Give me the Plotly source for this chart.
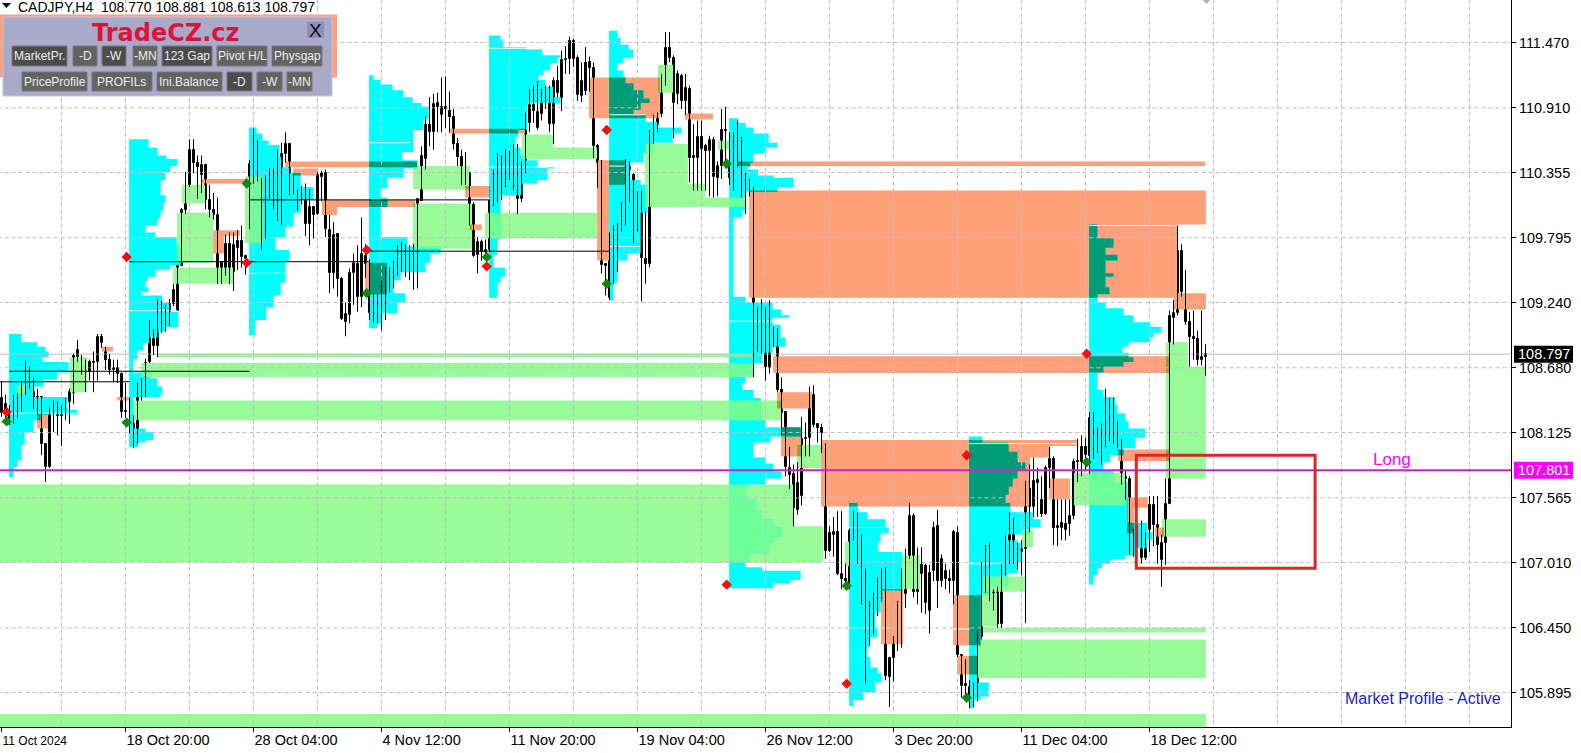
import plotly.graph_objects as go

# ---------- OHLC (bar index 0..301) ----------
opens = [108.42,108.37,108.22,108.28,108.36,108.38,108.53,108.68,108.47,108.43,
108.43,108.03,107.83,108.29,108.30,108.27,108.34,108.39,108.46,108.77,
108.71,108.74,108.64,108.72,108.73,108.94,108.82,108.75,108.66,108.68,
108.63,108.31,108.22,108.20,108.12,108.55,108.49,108.73,108.93,108.87,
109.09,109.14,109.13,109.23,109.17,109.55,110.03,110.24,110.55,110.44,
110.33,110.42,110.12,110.03,109.99,109.43,109.49,109.74,109.50,109.71,
109.77,109.64,110.26,110.43,110.55,110.30,109.85,110.26,110.36,110.17,
110.03,110.51,110.60,110.29,110.12,110.15,110.17,109.91,110.06,110.00,
110.32,110.35,109.86,109.49,109.83,109.44,109.07,109.13,109.49,109.57,
109.29,109.64,109.52,109.16,109.25,109.17,109.20,109.44,109.46,109.54,
109.68,109.61,109.55,109.55,109.67,110.11,110.47,110.76,110.70,110.95,
110.85,110.92,110.88,110.83,110.60,110.49,110.26,110.35,110.08,109.65,
109.76,109.69,109.69,110.11,110.25,110.31,110.26,110.39,110.30,110.50,
110.13,110.38,110.78,110.93,110.74,110.86,110.99,111.05,110.77,111.14,
110.99,111.32,111.33,111.48,111.34,111.01,111.29,111.30,111.25,110.58,
110.45,109.57,109.28,109.84,109.75,109.86,109.98,110.40,110.33,109.93,
110.13,109.61,109.57,110.68,110.76,110.86,111.16,111.42,111.34,111.03,
111.18,110.97,111.07,110.48,110.48,110.66,110.58,110.54,110.63,110.31,
110.41,110.72,110.40,110.32,110.61,110.65,110.29,110.27,110.23,108.97,
108.97,109.20,108.68,108.89,108.93,108.49,108.30,107.82,107.77,107.46,
107.58,108.07,108.08,108.45,108.20,108.16,108.03,107.11,107.25,107.27,
106.91,106.87,106.82,107.28,107.43,107.17,106.94,106.44,106.44,106.65,
106.82,106.86,106.03,106.19,106.32,106.56,106.74,107.06,107.41,106.76,
106.91,106.98,106.59,106.94,107.32,106.85,106.94,106.87,106.85,107.26,
106.22,105.95,105.84,105.94,105.84,106.37,106.99,107.06,106.66,106.76,
106.48,106.94,107.10,107.38,107.14,107.10,107.13,107.64,107.49,107.69,
107.55,107.43,107.82,107.90,107.31,107.31,107.29,107.34,107.41,107.87,
107.87,108.00,107.92,108.25,108.02,108.07,108.09,108.35,108.12,108.22,
108.07,107.73,107.73,107.10,107.30,107.30,107.05,107.29,107.50,107.33,
107.03,107.18,107.51,109.11,109.15,109.68,109.27,109.07,108.94,108.93,
108.75,108.770]
highs = [108.56,108.45,108.36,108.45,108.46,108.57,108.74,108.69,108.59,108.50,
108.43,108.03,108.34,108.40,108.39,108.36,108.42,108.50,108.80,108.92,
108.79,108.75,108.75,108.82,108.97,108.97,108.86,108.80,108.75,108.75,
108.64,108.55,108.42,108.27,108.55,108.59,108.76,109.09,109.01,109.27,
109.25,109.22,109.27,109.40,109.56,110.05,110.36,110.64,110.64,110.50,
110.50,110.43,110.25,110.18,110.14,109.59,109.82,109.84,109.84,109.86,
109.90,109.65,110.46,110.73,110.63,110.31,110.33,110.39,110.39,110.55,
110.61,110.70,110.61,110.34,110.21,110.24,110.26,110.21,110.07,110.36,
110.37,110.38,109.99,109.93,109.83,109.46,109.24,109.53,109.66,109.73,
109.97,109.74,109.61,109.32,109.32,109.43,109.54,109.54,109.60,109.73,
109.76,109.74,109.73,109.74,110.13,110.58,110.84,111.00,111.03,111.04,
111.17,111.18,111.05,110.90,110.65,110.55,110.53,110.36,110.10,109.80,
109.78,109.78,110.12,110.38,110.52,110.50,110.55,110.54,110.60,110.60,
110.45,110.87,111.07,111.10,111.14,111.07,111.10,111.10,111.17,111.27,
111.40,111.44,111.52,111.50,111.36,111.30,111.43,111.35,111.30,110.60,
110.46,109.57,109.84,109.90,109.92,110.10,110.47,110.45,110.35,110.19,
110.20,110.02,110.72,110.85,110.87,111.20,111.56,111.56,111.36,111.23,
111.20,111.20,111.10,110.77,110.80,110.80,110.60,110.67,110.66,110.45,
110.90,110.92,110.70,110.70,110.80,110.66,110.35,110.30,110.23,109.20,
109.27,109.20,109.26,109.03,109.02,108.60,108.30,108.00,107.85,107.87,
108.26,108.21,108.52,108.53,108.20,108.20,108.03,107.32,107.40,107.45,
107.45,107.00,107.30,107.45,107.44,107.25,106.96,106.68,106.75,106.88,
106.96,106.97,106.20,106.38,106.68,106.96,107.13,107.52,107.43,107.14,
107.14,107.00,106.99,107.36,107.46,107.08,107.00,106.95,107.29,107.32,
106.22,106.18,106.00,105.98,106.42,107.01,107.16,107.18,106.78,106.80,
106.99,107.24,107.44,107.39,107.18,107.20,107.71,107.85,107.91,107.82,
107.75,107.84,108.00,107.92,107.55,107.55,107.55,107.55,107.90,108.07,
108.10,108.08,108.30,108.30,108.17,108.20,108.50,108.42,108.42,108.23,
108.07,107.80,107.75,107.30,107.33,107.37,107.27,107.58,107.58,107.58,
107.25,107.73,109.17,109.26,109.90,109.74,109.52,109.16,109.17,109.00,
109.17,108.881]
lows = [108.26,108.25,108.19,108.20,108.25,108.30,108.45,108.50,108.33,108.28,
107.93,107.70,107.82,108.13,108.10,108.01,108.23,108.20,108.37,108.73,
108.62,108.47,108.57,108.47,108.57,108.85,108.66,108.62,108.56,108.55,
108.25,108.25,108.12,107.99,108.03,108.40,108.43,108.72,108.79,108.77,
108.98,108.99,109.04,109.21,109.17,109.55,110.00,110.23,110.35,110.13,
110.18,110.04,109.97,109.95,109.40,109.40,109.47,109.40,109.34,109.52,
109.54,109.48,109.87,110.26,110.28,109.69,109.79,110.13,110.04,109.94,
109.91,110.44,110.16,110.17,110.03,110.08,109.81,109.73,109.79,109.99,
110.11,109.80,109.32,109.36,109.29,109.09,108.95,109.06,109.22,109.16,
109.20,109.45,109.09,109.07,109.06,109.00,109.09,109.33,109.36,109.47,
109.50,109.46,109.43,109.35,109.36,110.11,110.38,110.58,110.55,110.70,
110.70,110.74,110.70,110.55,110.41,110.25,110.25,109.90,109.63,109.49,
109.60,109.64,109.67,110.07,110.10,110.12,110.23,110.29,110.20,110.00,
110.10,110.35,110.70,110.78,110.72,110.80,110.90,110.70,110.60,111.00,
110.88,111.20,111.20,111.26,110.97,110.96,111.02,111.05,110.48,110.22,
109.49,109.30,109.26,109.40,109.50,109.85,109.90,110.10,109.75,109.85,
109.25,109.40,109.54,110.60,110.70,110.83,111.10,111.30,110.65,110.94,
110.90,110.85,110.27,110.20,110.20,110.20,110.20,110.15,110.14,110.15,
110.30,110.39,110.25,110.20,110.40,110.14,110.00,110.15,108.60,108.82,
108.80,108.57,108.63,108.86,108.47,108.10,107.75,107.64,107.32,107.42,
107.50,107.92,107.92,108.17,108.04,107.95,107.04,107.10,107.06,106.90,
106.78,106.82,106.78,107.20,107.00,106.65,105.97,106.30,106.40,106.55,
106.70,106.00,105.77,105.99,106.25,106.28,106.62,107.04,106.71,106.65,
106.58,106.57,106.40,106.85,106.62,106.80,106.78,106.75,106.65,106.20,
105.85,105.88,105.76,105.77,105.82,106.35,106.75,106.68,106.60,106.45,
106.45,106.90,107.00,107.00,106.95,106.90,106.49,107.27,107.40,107.40,
107.40,107.42,107.65,107.16,107.15,107.20,107.20,107.24,107.38,107.70,
107.75,107.80,107.77,107.90,107.95,107.85,108.00,108.05,108.03,107.99,
107.68,107.55,107.08,107.06,107.15,107.00,107.03,107.10,107.15,107.00,
106.80,106.99,107.51,108.88,109.13,109.29,109.05,108.69,108.75,108.70,
108.70,108.613]
closes = [108.29,108.30,108.29,108.37,108.39,108.54,108.68,108.53,108.41,108.42,
108.03,107.83,108.30,108.32,108.27,108.34,108.39,108.47,108.78,108.83,
108.74,108.65,108.73,108.73,108.94,108.89,108.75,108.66,108.68,108.63,
108.30,108.30,108.20,108.12,108.55,108.48,108.72,109.06,108.87,109.09,
109.14,109.12,109.23,109.35,109.56,110.03,110.24,110.55,110.44,110.40,
110.42,110.12,110.03,109.99,109.43,109.59,109.74,109.50,109.73,109.77,
109.63,109.61,110.43,110.55,110.37,109.85,110.27,110.37,110.16,110.03,
110.51,110.60,110.28,110.21,110.16,110.17,109.91,110.06,109.99,110.33,
110.35,109.87,109.49,109.82,109.44,109.10,109.14,109.49,109.58,109.29,
109.66,109.57,109.15,109.25,109.17,109.20,109.44,109.41,109.54,109.68,
109.61,109.54,109.54,109.69,110.13,110.50,110.76,110.70,110.94,110.92,
110.92,110.90,110.83,110.60,110.49,110.33,110.34,110.07,109.64,109.76,
109.67,109.67,110.11,110.31,110.27,110.26,110.50,110.50,110.50,110.13,
110.38,110.85,110.93,110.88,110.87,111.00,111.05,110.77,111.14,111.04,
111.32,111.33,111.48,111.33,111.02,111.14,111.05,111.25,110.58,110.44,
109.56,109.55,109.84,109.75,109.86,109.99,110.40,110.38,109.93,110.13,
109.62,109.57,110.68,110.72,110.85,111.16,111.42,111.34,110.95,111.20,
110.97,111.08,110.48,110.50,110.66,110.56,110.54,110.63,110.32,110.41,
110.72,110.71,110.31,110.61,110.65,110.29,110.27,110.23,108.97,108.96,
109.20,108.69,108.89,108.94,108.49,108.29,107.83,107.76,107.48,107.69,
108.07,108.08,108.45,108.19,108.16,108.12,107.11,107.26,107.27,106.91,
106.87,106.85,107.28,107.43,107.17,106.94,106.44,106.51,106.65,106.83,
106.86,106.04,106.19,106.32,106.56,106.74,107.06,107.41,106.76,107.04,
106.99,106.66,106.92,107.31,106.85,107.04,106.87,106.85,107.27,106.22,
105.95,105.97,105.94,105.84,106.37,106.99,107.06,106.78,106.76,106.48,
106.94,107.10,107.38,107.16,107.10,107.13,107.64,107.49,107.71,107.72,
107.43,107.82,107.90,107.31,107.32,107.35,107.34,107.41,107.87,107.88,
108.00,107.93,108.25,108.02,108.07,108.09,108.35,108.22,108.22,108.06,
107.71,107.74,107.10,107.24,107.28,107.05,107.22,107.50,107.33,107.16,
107.18,107.51,109.12,109.15,109.68,109.33,109.07,108.94,108.93,108.75,
108.77,108.797]

# ---------- axes ----------
price_ticks = [111.470,110.910,110.355,109.795,109.240,108.680,108.125,107.565,107.010,106.450,105.895]
date_ticks = [0,31,63,95,127,159,191,223,255,287]
date_labels = ['<span style="font-size:12px">11 Oct 2024</span>',"18 Oct 20:00","28 Oct 04:00","4 Nov 12:00","11 Nov 20:00",
               "19 Nov 04:00","26 Nov 12:00","3 Dec 20:00","11 Dec 04:00","18 Dec 12:00"]
x_grid = [15+16*n for n in range(23)]
last_price = 108.797
long_price = 107.801

# ---------- supply / demand zones: first bar, last bar, upper price, lower price ----------
salmon_zones = [(-1,83.9,111.71,111.17),(49.9,61.4,110.30,110.26),(52.9,59.6,109.86,109.81),(52.9,55.6,109.81,109.66),
(70.9,103.9,110.45,110.40),(72.9,78.9,110.39,110.33),(80.1,103.4,110.12,110.06),(80.1,83.9,110.06,109.99),
(111.9,130.9,110.73,110.69),(115.9,122.1,110.24,110.14),(117.1,120.1,109.91,109.86),(146.9,164.6,111.17,110.82),
(148.9,155.9,110.46,110.25),(148.9,151.9,110.25,109.60),(170.9,177.9,110.86,110.81),(183.9,300.9,110.45,110.41),
(186.9,301.1,110.20,109.91),(186.9,293.9,109.91,109.28),(293.1,301.1,109.32,109.18),(192.9,292.1,108.78,108.635),
(193.9,202.6,108.47,108.33),(194.9,199.9,108.17,107.92),(204.9,257.1,108.06,107.49),(257.1,268.9,108.06,108.01),
(257.1,262.1,108.01,107.91),(261.9,267.1,107.73,107.55),(219.9,225.4,106.78,106.31),(237.9,244.9,106.73,106.30),
(238.9,243.9,106.21,106.05),(279.1,291.9,107.98,107.88),(281.4,286.6,107.57,107.48),(281.4,283.1,107.48,107.26),
(288.4,290.6,107.31,107.23),(25.1,27.9,108.86,108.82),(28.9,32.1,108.43,108.40),(8.9,11.6,108.29,108.16),
(90.9,96.4,109.58,109.31)]
green_zones = [(-1,301.1,105.71,105.60),(-1,197.9,107.68,107.32),(-1,205.4,107.32,107.01),(34.9,187.9,108.72,108.60),
(38.9,187.9,108.80,108.77),(32.9,194.9,108.40,108.23),(45.1,50.9,110.25,110.09),(43.9,52.9,110.01,109.58),
(42.9,57.9,109.54,109.40),(60.9,65.4,110.32,109.75),(102.9,117.1,110.41,110.21),(102.9,117.6,110.09,109.70),
(120.9,148.9,110.01,109.79),(130.1,148.9,110.57,110.47),(130.1,137.9,110.68,110.57),(160.9,171.6,110.60,110.26),
(160.9,175.9,110.26,110.14),(160.9,185.9,110.14,110.06),(164.1,167.9,111.28,111.17),(164.1,167.9,111.17,111.04),
(179.1,182.1,110.63,110.55),(198.9,204.9,108.02,107.82),(210.9,212.1,107.19,106.98),(225.1,229.6,107.07,106.78),
(245.4,255.9,106.89,106.76),(245.1,248.9,106.75,106.46),(255.1,257.9,107.29,107.14),(245.4,301.1,106.45,106.41),
(243.9,301.1,106.35,106.02),(267.9,280.9,107.78,107.50),(291.1,296.6,108.90,108.69),(291.1,301.1,108.69,107.73),
(290.1,301.1,107.38,107.23),(17.1,21.4,108.77,108.47),(3.9,5.9,108.53,108.45)]

# ---------- weekly market profiles: start bar, price levels (last = lower end), TPO counts in bars ----------
p0_start = 2
p0_levels = [108.97,108.90,108.86,108.82,108.77,108.73,108.64,108.58,108.52,108.43,108.32,108.28,108.23,108.13,108.02,107.89,107.83,107.74]
p0_counts = [3,7,9,9.8,8.2,14.8,12,8.5,6,14.5,17,7.8,6,3.8,3,2,1]
p1_start = 32
p1_levels = [110.64,110.57,110.50,110.47,110.41,110.36,110.35,110.29,110.16,110.10,110.03,109.96,109.90,109.84,109.80,109.73,109.56,109.52,109.46,109.42,109.37,109.33,109.30,109.24,109.16,109.03,108.99,108.94,108.89,108.83,108.75,108.64,108.59,108.52,108.46,108.43,108.16,108.13,108.06,108.04,108.00]
p1_counts = [4.8,7,9.2,12,10.2,7,9,7.8,9,8.5,7.8,7,4,6.5,11.8,12.8,10.2,6.5,4.5,4,4.8,3,8.2,10.2,12.2,9,7.2,5,3.5,2,1,5.2,7,8.2,7.8,1,4,6,4,2.2]
p2_start = 62
p2_levels = [110.74,110.69,110.63,110.59,110.49,110.40,110.35,110.23,110.12,110.01,109.89,109.80,109.69,109.59,109.41,109.30,109.20,109.09,108.96]
p2_counts = [1.8,3.2,4.8,7.5,8,10.2,12.8,16,12.8,11,9,6.5,10,9,7.8,6,4.2,1.5]
p3_start = 92
p3_levels = [111.19,111.15,111.11,111.06,111.00,110.95,110.92,110.81,110.72,110.53,110.46,110.39,110.31,110.22,110.14,110.06,109.80,109.72,109.66,109.58,109.50,109.43,109.32,109.24,109.15,109.06,109.02]
p3_counts = [1,2.8,5.8,8.5,10.8,13,14.8,13.5,11,8.2,12,8.5,4.5,2.8,4.5,2.8,9.5,17.8,15.2,14,7.8,6,9,7,3.2,2]
p4_start = 122
p4_levels = [111.53,111.49,111.43,111.41,111.36,111.34,111.29,111.23,111.19,111.15,111.09,111.00,110.95,110.72,110.66,110.57,110.50,110.46,110.40,110.39,110.29,110.26,110.16,109.78,109.65,109.54,109.46,109.41,109.28]
p4_counts = [2.8,3.5,9,13.2,17.8,17,15.2,13.5,12.2,14,16,17.8,9.5,7.2,6.5,7.8,9,12,16,14.5,12,8.2,2.8,2,1,4,2.8,2]
p5_start = 152
p5_levels = [111.57,111.51,111.45,111.41,111.34,111.29,111.23,111.17,111.12,111.06,110.99,110.95,110.89,110.85,110.79,110.74,110.69,110.61,110.52,110.44,110.29,110.25,110.01,109.66,109.60,109.41,109.26]
p5_counts = [2,2.8,4.8,6,3.5,2,3.5,4,6,8.5,10,7.8,6,9,12.2,18,15.8,10.8,8.5,5.2,7.8,9.5,7.8,4.5,2,1]
p6_start = 182
p6_levels = [110.82,110.78,110.74,110.69,110.61,110.57,110.52,110.44,110.40,110.38,110.33,110.31,110.23,110.19,110.03,109.97,109.29,109.24,109.18,109.13,109.11,109.05,108.94,108.86,108.81,108.72,108.60,108.55,108.49,108.42,108.23,108.17,108.09,108.04,107.91,107.86,107.79,107.73,107.68,107.55,107.46,107.38,107.31,107.23,107.18,107.09,107.01,106.97,106.94,106.86,106.83,106.79]
p6_counts = [2.2,4,6,9.8,12,9,6,5.2,4.5,7.2,11,16,12,4,3.2,1,4,10.8,13,15,10.8,12.8,14,10.8,8.2,6,4,3.2,6,7.8,9,17.8,10.2,6,9,11,13,9,4,6.5,7.8,11,13,11,9.8,4.8,4,8.2,17.8,15.2,11]
p7_start = 212
p7_levels = [107.52,107.48,107.44,107.38,107.31,107.26,107.19,107.10,106.77,106.67,106.58,106.46,106.37,106.28,106.20,106.11,106.06,105.98,105.90,105.83,105.78]
p7_counts = [2,2.2,4.5,9,9.8,7.8,7.2,13.2,8.2,7.8,6.5,7,5.2,4.5,5.2,7,8,6.5,3.5,1]
p8_start = 242
p8_levels = [108.09,108.04,107.96,107.87,107.80,107.73,107.66,107.59,107.52,107.44,107.38,107.31,107.25,107.20,107.18,107.09,107.01,106.92,106.80,106.73,106.29,105.98,105.86,105.83,105.76]
p8_counts = [3.2,9.8,12,14,12,10.8,9.8,9,10.2,16,17.8,14.8,9.5,12,12.8,13.2,12,9.5,5.2,2.8,2,4.8,2.8,1]
p9_start = 272
p9_levels = [109.91,109.79,109.71,109.65,109.60,109.49,109.46,109.37,109.31,109.24,109.19,109.13,109.07,109.03,108.98,108.94,108.90,108.86,108.81,108.77,108.73,108.69,108.64,108.49,108.43,108.36,108.29,108.22,108.16,108.08,107.99,107.93,107.87,107.80,107.70,107.35,107.27,107.20,107.13,107.07,107.04,107.00,106.96,106.90,106.82]
p9_counts = [2,6,4,7,4,6,4,5,2,4,8.5,11,15.2,18,16,15.2,9.8,8.2,9.8,11,8.5,3.5,2,3.5,6.5,7,9,9.8,14,11.5,8.5,5.2,3.5,6,9.5,14.5,15.8,14.5,11.5,9,5.2,3.2,2,1]

# white point-of-control hairlines: first bar, last bar, price
white_lines = [(122,130.9,111.42),(152,161,110.85),(152,156,110.41),(152,159.6,109.72),(272,294,109.90),(242,268.9,108.03),
(212,221,107.31),(242,249.6,107.00),(212,222.1,106.45),(237.1,242.1,106.44),(32,44.1,109.17),(62,70.9,109.49),
(2,19,108.29),(92,102.1,110.61),(122,136.6,110.40),(182,194.6,109.08)]
# black previous-value-area lines
level_lines = [(32,92,109.59),(62,122,110.12),(92,152,109.68),(2,62,108.65),(-1,32,108.56)]
# session arrows
red_bar = [31.3,61.3,91.3,1.3,121.3,151.3,181.3,211.3,241.3,271.3]
red_price = [109.63,109.58,109.69,108.30,109.55,110.72,106.82,105.97,107.93,108.80]
green_bar = [1.3,31.3,91.3,61.3,121.3,151.3,181.3,211.3,241.3,271.3]
green_price = [108.22,108.21,109.32,110.26,109.63,109.40,110.43,106.81,105.85,107.87]
# long trade box
box_bars = (283.7,328.4)
box_prices = (107.93,106.96)

CYAN, SALMON, GREEN = "#00FFFF", "#FFA07A", "#98FB98"
DARK, MINT, OLIVE = "#009B77", "#6CFF9A", "#9A9F3A"
PLOT_W, PLOT_H = 1511, 727

def px(x, y):
    return x/PLOT_W, 1-y/PLOT_H

def rects(items):
    xs, ys = [], []
    for k0, k1, hi, lo in items:
        xs += [k0, k1, k1, k0, k0, None]
        ys += [hi, hi, lo, lo, hi, None]
    return xs, ys

def overlap(a, b):
    k0, k1 = max(a[0], b[0]), min(a[1], b[1])
    hi, lo = min(a[2], b[2]), max(a[3], b[3])
    return (k0, k1, hi, lo) if k0 < k1 and lo < hi else None

profiles = [(p0_start,p0_levels,p0_counts),(p1_start,p1_levels,p1_counts),(p2_start,p2_levels,p2_counts),
            (p3_start,p3_levels,p3_counts),(p4_start,p4_levels,p4_counts),(p5_start,p5_levels,p5_counts),
            (p6_start,p6_levels,p6_counts),(p7_start,p7_levels,p7_counts),(p8_start,p8_levels,p8_counts),
            (p9_start,p9_levels,p9_counts)]
rows = []
for s, lv, ct in profiles:
    for i, c in enumerate(ct):
        rows.append((s-0.1, s+c, lv[i], lv[i+1]))

def layer(items, color):
    xs, ys = rects(items)
    return go.Scatter(x=xs, y=ys, mode="lines", fill="toself", fillcolor=color,
                      line=dict(width=0, color=color), hoverinfo="skip", showlegend=False)

def overlaps(A, B):
    return [o for a in A for b in B if (o := overlap(a, b))]

fig = go.Figure()
fig.add_trace(layer(salmon_zones, SALMON))
fig.add_trace(layer(green_zones, GREEN))
fig.add_trace(layer(overlaps(salmon_zones, green_zones), OLIVE))
fig.add_trace(layer(rows, CYAN))
fig.add_trace(layer(overlaps(rows, green_zones), MINT))
fig.add_trace(layer(overlaps(rows, salmon_zones), DARK))

def segs(items):
    xs, ys = [], []
    for k0, k1, p in items:
        xs += [k0, k1, None]; ys += [p, p, None]
    return xs, ys

wx, wy = segs(white_lines)
fig.add_trace(go.Scatter(x=wx, y=wy, mode="lines", line=dict(color="#FFFFFF", width=1), hoverinfo="skip", showlegend=False))

# grid
gx, gy = [], []
for p in price_ticks:
    gx += [-1, 378, None]; gy += [p, p, None]
for k in x_grid:
    gx += [k, k, None]; gy += [105.5, 112, None]
fig.add_trace(go.Scatter(x=gx, y=gy, mode="lines", line=dict(color="#C0C0C0", width=1, dash="4px,3px"), hoverinfo="skip", showlegend=False))

lx, ly = segs(level_lines)
fig.add_trace(go.Scatter(x=lx, y=ly, mode="lines", line=dict(color="#000000", width=1), hoverinfo="skip", showlegend=False))

# last price line, below the candles
fig.add_trace(go.Scatter(x=[-1,378], y=[last_price,last_price], mode="lines", line=dict(color="#C0C0C0", width=1), hoverinfo="skip", showlegend=False))

# candles
bars = list(range(len(opens)))
wxs, wys = [], []
for k in bars:
    wxs += [k, k, None]; wys += [highs[k], lows[k], None]
fig.add_trace(go.Scatter(x=wxs, y=wys, mode="lines", line=dict(color="#000000", width=1), hoverinfo="skip", showlegend=False))
up = [k for k in bars if closes[k] >= opens[k]]
dn = [k for k in bars if closes[k] < opens[k]]
fig.add_trace(go.Bar(x=up, y=[closes[k]-opens[k] for k in up], base=[opens[k] for k in up], width=0.5, offset=-0.2375,
                     marker=dict(color="#FFFFFF", line=dict(color="#000000", width=1)), showlegend=False, hoverinfo="skip"))
fig.add_trace(go.Bar(x=dn, y=[opens[k]-closes[k] for k in dn], base=[closes[k] for k in dn], width=0.5, offset=-0.2375,
                     marker=dict(color="#000000", line=dict(color="#000000", width=1)), showlegend=False, hoverinfo="skip"))

fig.add_trace(go.Scatter(x=[-1,378], y=[long_price,long_price], mode="lines", line=dict(color="#CC22CC", width=2), hoverinfo="skip", showlegend=False))
fig.add_trace(go.Scatter(x=red_bar, y=red_price, mode="markers", marker=dict(symbol="diamond", size=8, color="#EE1111"), hoverinfo="skip", showlegend=False))
fig.add_trace(go.Scatter(x=green_bar, y=green_price, mode="markers", marker=dict(symbol="diamond", size=8, color="#118811"), hoverinfo="skip", showlegend=False))

shapes, ann = [], []
shapes.append(dict(type="rect", xref="x", yref="y", x0=box_bars[0], x1=box_bars[1], y0=box_prices[0], y1=box_prices[1],
                   line=dict(color="#DC2626", width=3), fillcolor="rgba(0,0,0,0)", layer="above"))

def box(x0, y0, x1, y1, fill, line=None, w=1):
    a, b = px(x0, y0); c, d = px(x1, y1)
    shapes.append(dict(type="rect", xref="paper", yref="paper", x0=a, y0=b, x1=c, y1=d, fillcolor=fill,
                       line=dict(color=line or fill, width=w if line else 0), layer="above"))

def label(x, y, text, size, color, anchor="center", fam="Liberation Sans", bold=False):
    a, b = px(x, y)
    ann.append(dict(xref="paper", yref="paper", x=a, y=b, text=f"<b>{text}</b>" if bold else text, showarrow=False,
                    xanchor=anchor, yanchor="middle", font=dict(size=size, color=color, family=fam)))

# panel
box(3, 17, 332, 96, "#A9A9C9", "#C4C4DC", 1)
label(166, 33, "TradeCZ.cz", 24, "#DC143C", fam="DejaVu Sans", bold=True)
box(307, 22, 324, 38, "#8F8FB5")
label(315.5, 30, "X", 19, "#111111")
buttons_row1 = [("MarketPr.",12,67,1),("-D",73,97,0),("-W",102,126,1),("-MN",133,157,0),("123 Gap",162,212,1),("Pivot H/L",217,267,0),("Physgap",272,322,0)]
buttons_row2 = [("PriceProfile",22,87,0),("PROFILs",92,152,0),("Ini.Balance",157,222,0),("-D",227,252,1),("-W",257,282,0),("-MN",287,312,0)]
for row, (y0, y1) in ((buttons_row1, (46, 66)), (buttons_row2, (72, 91))):
    for t, x0, x1, dark in row:
        box(x0, y0, x1, y1, "#4C4C4C" if dark else "#636363", "#7A7A7A", 1)
        label((x0+x1)/2, (y0+y1)/2+0.5, t, 12, "#EEEEEE")

# header
label(16, 7, "CADJPY,H4  108.770 108.881 108.613 108.797", 14, "#000000", "left")
shapes.append(dict(type="path", xref="paper", yref="paper", layer="above", fillcolor="#000000", line=dict(width=0),
     path="M {} {} L {} {} L {} {} Z".format(*px(2,3), *px(11,3), *px(6.5,8))))
shapes.append(dict(type="path", xref="paper", yref="paper", layer="above", fillcolor="#B0B0B0", line=dict(width=0),
     path="M {} {} L {} {} L {} {} Z".format(*px(1203,0), *px(1210,0), *px(1206.5,4))))

# right labels
def price_y(p):
    return (111.8345-p)/0.008577
for p, fill, txt in ((last_price, "#000000", "108.797"), (long_price, "#FF00FF", "107.801")):
    y = price_y(p)
    box(1514, y-8.5, 1573, y+8.5, fill)
    label(1516, y, txt, 14.5, "#FFFFFF", "left")
label(1392, 459, "Long", 17, "#FF00FF")
label(1503, 698, "Market Profile - Active", 16, "#2222CC", "right")

fig.update_layout(
    width=1581, height=753, autosize=False,
    margin=dict(l=0, r=70, t=0, b=26, pad=0),
    paper_bgcolor="#FFFFFF", plot_bgcolor="#FFFFFF",
    barmode="overlay", bargap=0, showlegend=False,
    shapes=shapes, annotations=ann,
    font=dict(family="Liberation Sans", color="#000000"),
    xaxis=dict(range=[-0.375, 377.375], showgrid=False, zeroline=False, showline=True, linecolor="#000000", linewidth=1,
               tickmode="array", tickvals=date_ticks, ticktext=date_labels, ticks="outside", ticklen=4, tickcolor="#000000",
               ticklabelposition="outside right", tickfont=dict(size=14.5, family="Liberation Sans", color="#000000")),
    yaxis=dict(range=[105.599, 111.8345], side="right", showgrid=False, zeroline=False, showline=True, linecolor="#000000", linewidth=1,
               tickmode="array", tickvals=price_ticks, ticktext=[f"{p:.3f}" for p in price_ticks], ticks="outside", ticklen=4, tickcolor="#000000",
               tickfont=dict(size=14.5, family="Liberation Sans", color="#000000")),
)
fig.write_html("out.html", config=dict(displayModeBar=False), post_script="document.body.style.margin='0';document.body.style.overflow='hidden';")
